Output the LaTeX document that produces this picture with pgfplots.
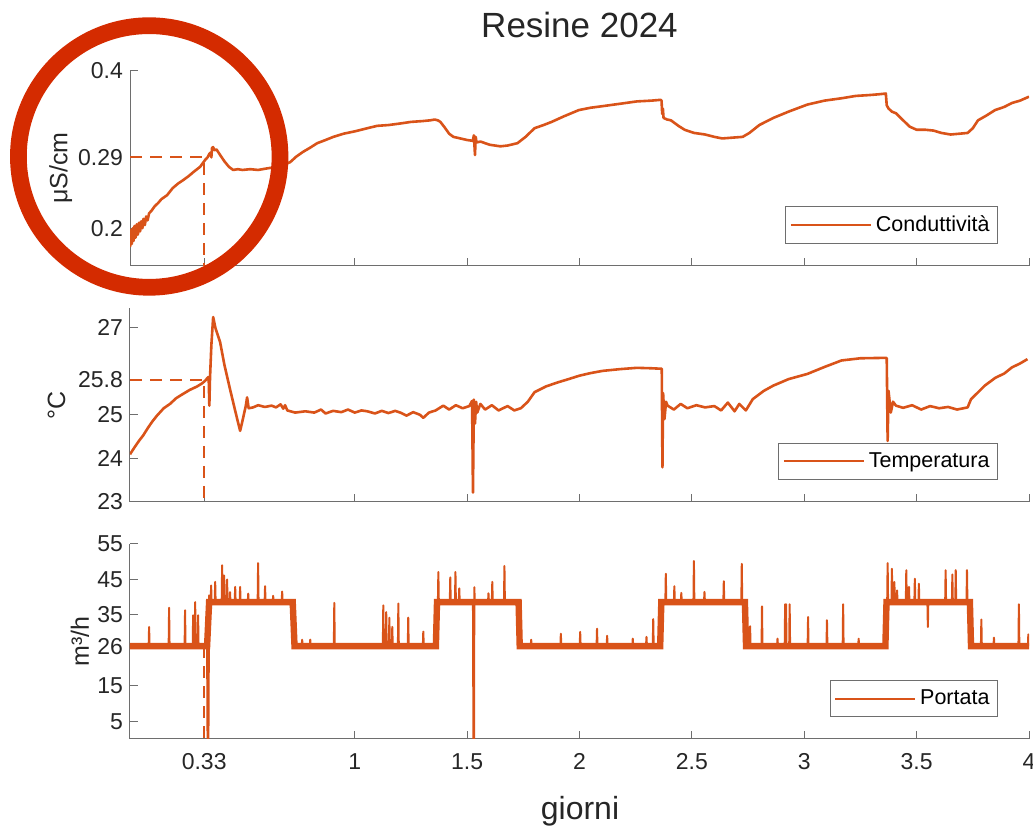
\documentclass[border=0pt]{standalone}
\usepackage{fontspec}
\setmainfont{Liberation Sans}
\usepackage{pgfplots}
\pgfplotsset{compat=1.18}
\definecolor{ocol}{RGB}{217,83,25}
\definecolor{axgray}{RGB}{110,110,110}
\definecolor{txt}{RGB}{38,38,38}
\definecolor{circ}{RGB}{212,43,0}
\pgfplotsset{
  base/.style={
    scale only axis, width=449.5pt, xmin=0, xmax=4,
    axis x line*=bottom, axis y line*=left,
    axis line style={draw=axgray, line width=0.5pt},
    every tick/.style={draw=axgray, line width=0.5pt},
    tick align=inside, major tick length=4pt,
    xtick={0.33,1,1.5,2,2.5,3,3.5,4},
    ticklabel style={font=\fontsize{11.5}{13}\selectfont, text=txt},
    ylabel style={font=\fontsize{12.5}{14}\selectfont, text=txt, anchor=center},
    legend cell align=left,
    legend style={at={(1,0)}, anchor=south east, xshift=-15.5pt, yshift=11pt,
      draw=axgray, line width=0.5pt, font=\fontsize{10.75}{12}\selectfont,
      text=black, inner xsep=2pt, inner ysep=2.5pt},
    legend image code/.code={\draw[#1, line width=1pt] (0pt,0pt) -- (40pt,0pt);},
  },
  ser/.style={ocol, line width=1.3pt, line join=round},
  dsh/.style={ocol, line width=1pt, dash pattern=on 6pt off 4pt, forget plot},
}
\begin{document}
\begin{tikzpicture}
\useasboundingbox (0pt,0pt) rectangle (516.5pt,414.5pt);
% ---------- top: conducibilità
\begin{axis}[base, at={(65pt,281.65pt)}, anchor=south west, height=97.5pt,
  ymin=0.1525, ymax=0.4, ytick={0.2,0.29,0.4}, yticklabels={0.2,0.29,0.4},
  xticklabels={}, ylabel={μS/cm},
  ylabel style={at={(axis description cs:-0.077,0.5)}}]
\addplot[ser] coordinates {
(0.000,0.176)(0.004,0.198)(0.008,0.180)(0.012,0.200)(0.016,0.184)(0.020,0.203)
(0.025,0.188)(0.030,0.205)(0.035,0.192)(0.040,0.207)(0.045,0.196)(0.050,0.209)
(0.055,0.200)(0.060,0.212)(0.066,0.204)(0.072,0.215)(0.078,0.210)(0.085,0.219)
(0.095,0.222)(0.110,0.228)(0.125,0.232)(0.140,0.237)(0.165,0.242)(0.190,0.251)
(0.215,0.257)(0.236,0.261)(0.260,0.266)(0.285,0.272)(0.312,0.278)(0.335,0.287)
(0.345,0.290)(0.352,0.294)(0.358,0.296)(0.362,0.290)(0.365,0.302)(0.370,0.303)
(0.375,0.299)(0.385,0.300)(0.401,0.293)(0.420,0.285)(0.440,0.278)(0.459,0.274)
(0.480,0.275)(0.500,0.274)(0.535,0.275)(0.570,0.274)(0.610,0.276)(0.655,0.278)
(0.690,0.281)(0.713,0.284)(0.740,0.291)(0.770,0.297)(0.800,0.302)(0.833,0.308)
(0.870,0.312)(0.905,0.316)(0.950,0.320)(1.000,0.323)(1.056,0.327)(1.100,0.330)
(1.150,0.331)(1.203,0.333)(1.250,0.335)(1.300,0.336)(1.336,0.337)(1.355,0.338)
(1.370,0.337)(1.381,0.335)(1.400,0.328)(1.420,0.320)(1.439,0.316)(1.470,0.314)
(1.500,0.312)(1.525,0.311)(1.530,0.318)(1.535,0.293)(1.538,0.316)(1.542,0.309)
(1.560,0.310)(1.600,0.306)(1.648,0.304)(1.680,0.305)(1.724,0.308)(1.760,0.316)
(1.800,0.327)(1.840,0.331)(1.876,0.335)(1.930,0.342)(1.997,0.350)(2.050,0.353)
(2.103,0.355)(2.180,0.358)(2.255,0.361)(2.320,0.362)(2.361,0.363)(2.365,0.362)
(2.368,0.345)(2.371,0.352)(2.374,0.340)(2.390,0.338)(2.407,0.337)(2.440,0.330)
(2.468,0.325)(2.510,0.321)(2.559,0.319)(2.600,0.316)(2.635,0.314)(2.680,0.315)
(2.726,0.316)(2.756,0.321)(2.800,0.331)(2.862,0.340)(2.930,0.348)(3.014,0.357)
(3.090,0.362)(3.166,0.365)(3.230,0.368)(3.287,0.369)(3.330,0.370)(3.363,0.371)
(3.367,0.356)(3.375,0.352)(3.390,0.348)(3.408,0.346)(3.440,0.337)(3.469,0.329)
(3.500,0.325)(3.540,0.325)(3.575,0.324)(3.610,0.321)(3.651,0.319)(3.690,0.320)
(3.727,0.321)(3.750,0.327)(3.773,0.337)(3.810,0.343)(3.849,0.350)(3.890,0.354)
(3.924,0.359)(3.960,0.362)(4.000,0.367)};
\addlegendentry{Conduttività}
\addplot[dsh] coordinates {(0,0.29)(0.33,0.29)(0.33,0.1525)};
\end{axis}
% ---------- middle: temperatura
\begin{axis}[base, at={(65pt,163.65pt)}, anchor=south west, height=96.7pt,
  ymin=23, ymax=27.45, ytick={23,24,25,25.8,27}, yticklabels={23,24,25,25.8,27},
  xticklabels={}, ylabel={°C},
  ylabel style={at={(axis description cs:-0.0816,0.5)}}]
\addplot[ser] coordinates {
(0.000,24.09)(0.020,24.25)(0.040,24.40)(0.058,24.52)(0.080,24.70)(0.100,24.85)
(0.120,24.98)(0.150,25.15)(0.178,25.25)(0.205,25.38)(0.236,25.48)(0.265,25.57)
(0.298,25.65)(0.320,25.72)(0.334,25.78)(0.345,25.85)(0.350,25.87)(0.353,25.21)
(0.356,25.85)(0.362,26.60)(0.370,27.25)(0.380,27.00)(0.401,26.67)(0.420,26.15)
(0.445,25.59)(0.470,25.05)(0.490,24.63)(0.500,24.85)(0.515,25.20)(0.521,25.40)
(0.528,25.15)(0.548,25.17)(0.570,25.22)(0.600,25.18)(0.630,25.21)(0.650,25.17)
(0.670,25.24)(0.682,25.14)(0.690,25.22)(0.700,25.10)(0.735,25.05)(0.780,25.08)
(0.820,25.05)(0.850,25.12)(0.870,25.03)(0.904,25.09)(0.940,25.06)(0.970,25.12)
(1.000,25.05)(1.030,25.10)(1.056,25.08)(1.090,25.03)(1.120,25.09)(1.150,25.04)
(1.180,25.09)(1.203,25.05)(1.230,24.98)(1.260,25.06)(1.290,25.00)(1.305,24.93)
(1.330,25.05)(1.360,25.10)(1.394,25.21)(1.420,25.12)(1.450,25.22)(1.480,25.15)
(1.510,25.20)(1.522,25.32)(1.526,23.21)(1.530,25.35)(1.535,24.80)(1.540,25.30)
(1.545,25.05)(1.559,25.25)(1.580,25.12)(1.610,25.22)(1.640,25.10)(1.680,25.20)
(1.710,25.10)(1.739,25.15)(1.770,25.30)(1.800,25.52)(1.850,25.65)(1.900,25.74)
(1.951,25.82)(2.000,25.90)(2.050,25.96)(2.103,26.01)(2.180,26.05)(2.255,26.08)
(2.320,26.07)(2.361,26.06)(2.366,26.06)(2.369,23.79)(2.372,25.50)(2.378,24.90)
(2.385,25.30)(2.392,25.21)(2.420,25.12)(2.450,25.25)(2.480,25.15)(2.520,25.22)
(2.559,25.17)(2.600,25.20)(2.630,25.10)(2.660,25.28)(2.690,25.08)(2.711,25.25)
(2.740,25.10)(2.771,25.36)(2.820,25.55)(2.862,25.67)(2.930,25.82)(3.014,25.94)
(3.090,26.10)(3.166,26.25)(3.250,26.30)(3.363,26.31)(3.367,26.30)(3.371,24.40)
(3.375,25.55)(3.385,25.05)(3.395,25.30)(3.408,25.21)(3.440,25.16)(3.480,25.22)
(3.520,25.12)(3.560,25.20)(3.600,25.15)(3.640,25.18)(3.680,25.12)(3.727,25.17)
(3.742,25.36)(3.770,25.50)(3.803,25.67)(3.850,25.85)(3.890,25.95)(3.924,26.09)
(3.960,26.18)(3.993,26.28)};
\addlegendentry{Temperatura}
\addplot[dsh] coordinates {(0,25.8)(0.33,25.8)(0.33,23)};
\end{axis}
% ---------- bottom: portata
\begin{axis}[base, at={(65pt,45pt)}, anchor=south west, height=97.5pt,
  ymin=0, ymax=55, ytick={5,15,26,35,45,55}, yticklabels={5,15,26,35,45,55},
  xticklabels={0.33,1,1.5,2,2.5,3,3.5,4},
  xticklabel style={anchor=north, inner sep=0pt, yshift=-7pt},
  ylabel={m³/h},
  ylabel style={at={(axis description cs:-0.0556,0.5)}}]
\addplot[ocol, line width=1pt, line join=round] coordinates {
(0,26.2)
(0.083,26.2)(0.085,31.6)(0.087,26.2)(0.172,26.2)(0.174,37.0)(0.176,26.2)
(0.243,26.2)(0.245,36.3)(0.247,26.2)(0.279,26.2)(0.281,34.9)(0.283,26.2)
(0.288,26.2)(0.290,38.6)(0.292,26.2)(0.301,26.2)(0.303,34.9)(0.305,26.2)
(0.343,26.2)(0.345,0)(0.349,0)(0.352,40.5)(0.356,38.6)
(0.359,38.6)(0.361,43.3)(0.363,38.6)(0.377,38.6)(0.379,44.3)(0.381,38.6)
(0.408,38.6)(0.410,49.0)(0.412,38.6)(0.417,38.6)(0.419,46.1)(0.421,38.6)
(0.430,38.6)(0.432,45.0)(0.434,38.6)(0.443,38.6)(0.445,41.4)(0.447,38.6)
(0.466,38.6)(0.468,42.9)(0.470,38.6)(0.488,38.6)(0.490,42.9)(0.492,38.6)
(0.524,38.6)(0.526,41.0)(0.528,38.6)(0.568,38.6)(0.570,49.6)(0.572,38.6)
(0.599,38.6)(0.601,43.1)(0.603,38.6)(0.635,38.6)(0.637,40.4)(0.639,38.6)
(0.675,38.6)(0.677,41.6)(0.679,38.6)
(0.724,38.6)(0.728,27.5)(0.732,26.2)
(0.764,26.2)(0.766,28.0)(0.768,26.2)(0.800,26.2)(0.802,28.0)(0.804,26.2)
(0.907,26.2)(0.909,38.4)(0.911,26.2)(1.125,26.2)(1.127,37.7)(1.129,26.2)
(1.138,26.2)(1.140,35.8)(1.142,26.2)(1.152,26.2)(1.154,34.2)(1.156,26.2)
(1.165,26.2)(1.167,31.6)(1.169,26.2)(1.192,26.2)(1.194,38.2)(1.196,26.2)
(1.236,26.2)(1.238,34.2)(1.240,26.2)(1.303,26.2)(1.305,30.3)(1.307,26.2)
(1.361,26.2)(1.366,38.6)
(1.370,38.6)(1.372,47.1)(1.374,38.6)(1.423,38.6)(1.425,45.6)(1.427,38.6)
(1.446,38.6)(1.448,47.1)(1.450,38.6)(1.463,38.6)(1.465,42.5)(1.467,38.6)
(1.526,38.6)(1.528,0)(1.531,0)(1.532,42.8)(1.534,38.6)
(1.593,38.6)(1.595,41.1)(1.597,38.6)(1.610,38.6)(1.612,44.3)(1.614,38.6)
(1.664,38.6)(1.666,48.8)(1.668,38.6)
(1.729,38.6)(1.734,26.2)
(1.783,26.2)(1.785,28.0)(1.787,26.2)(1.915,26.2)(1.917,29.7)(1.919,26.2)
(2.001,26.2)(2.003,30.2)(2.005,26.2)(2.076,26.2)(2.078,31.1)(2.080,26.2)
(2.121,26.2)(2.123,29.1)(2.125,26.2)(2.235,26.2)(2.237,28.3)(2.239,26.2)
(2.296,26.2)(2.298,28.8)(2.300,26.2)(2.326,26.2)(2.328,33.8)(2.330,26.2)
(2.359,26.2)(2.364,38.6)
(2.382,38.6)(2.384,46.6)(2.386,38.6)(2.420,38.6)(2.422,43.1)(2.424,38.6)
(2.451,38.6)(2.453,41.2)(2.455,38.6)(2.507,38.6)(2.509,50.2)(2.511,38.6)
(2.554,38.6)(2.556,41.5)(2.558,38.6)(2.640,38.6)(2.642,44.5)(2.644,38.6)
(2.720,38.6)(2.722,49.4)(2.724,38.6)
(2.736,38.6)(2.741,26.2)
(2.757,26.2)(2.759,31.8)(2.761,26.2)(2.810,26.2)(2.812,37.4)(2.814,26.2)
(2.879,26.2)(2.881,28.3)(2.883,26.2)(2.913,26.2)(2.915,38.0)(2.917,26.2)
(2.919,38.0)(2.921,26.2)(2.933,26.2)(2.935,38.0)(2.937,26.2)
(3.015,26.2)(3.017,34.4)(3.019,26.2)(3.099,26.2)(3.101,33.5)(3.103,26.2)
(3.171,26.2)(3.173,38.0)(3.175,26.2)(3.240,26.2)(3.242,28.3)(3.244,26.2)
(3.361,26.2)(3.366,38.6)
(3.369,38.6)(3.371,49.6)(3.373,38.6)(3.388,38.6)(3.390,48.0)(3.392,38.6)
(3.399,38.6)(3.401,44.3)(3.403,38.6)(3.411,38.6)(3.413,41.9)(3.415,38.6)
(3.452,38.6)(3.454,47.6)(3.456,38.6)(3.464,38.6)(3.466,42.9)(3.468,38.6)
(3.490,38.6)(3.492,45.2)(3.494,38.6)(3.508,38.6)(3.510,43.8)(3.512,38.6)
(3.548,38.6)(3.550,31.6)(3.552,38.6)(3.627,38.6)(3.629,47.6)(3.631,38.6)
(3.657,38.6)(3.659,46.4)(3.661,38.6)(3.672,38.6)(3.674,47.6)(3.676,38.6)
(3.722,38.6)(3.724,47.6)(3.726,38.6)
(3.737,38.6)(3.742,26.2)
(3.786,26.2)(3.788,33.7)(3.790,26.2)(3.842,26.2)(3.844,28.6)(3.846,26.2)
(3.953,26.2)(3.955,38.0)(3.957,26.2)(3.995,26.2)(3.997,29.5)(4.000,26.2)};
\addlegendentry{Portata}
\addplot[ocol, line width=3.2pt, line join=miter, forget plot] coordinates {
(0,26.2)(0.343,26.2)(0.352,38.6)(0.724,38.6)(0.732,26.2)(1.361,26.2)(1.366,38.6)
(1.729,38.6)(1.734,26.2)(2.359,26.2)(2.364,38.6)(2.736,38.6)(2.741,26.2)
(3.361,26.2)(3.366,38.6)(3.737,38.6)(3.742,26.2)(4,26.2)};
\addplot[dsh] coordinates {(0.33,26.2)(0.33,0)};
\end{axis}
\node[anchor=base, font=\fontsize{17.5}{20}\selectfont, text=txt] at (289.75pt,395.85pt) {Resine 2024};
\node[anchor=base, font=\fontsize{16}{18}\selectfont, text=txt] at (290pt,4.5pt) {giorni};
\draw[circ, line width=8.35pt] (74.6pt,336.25pt) circle (65.4pt);
\end{tikzpicture}
\end{document}
